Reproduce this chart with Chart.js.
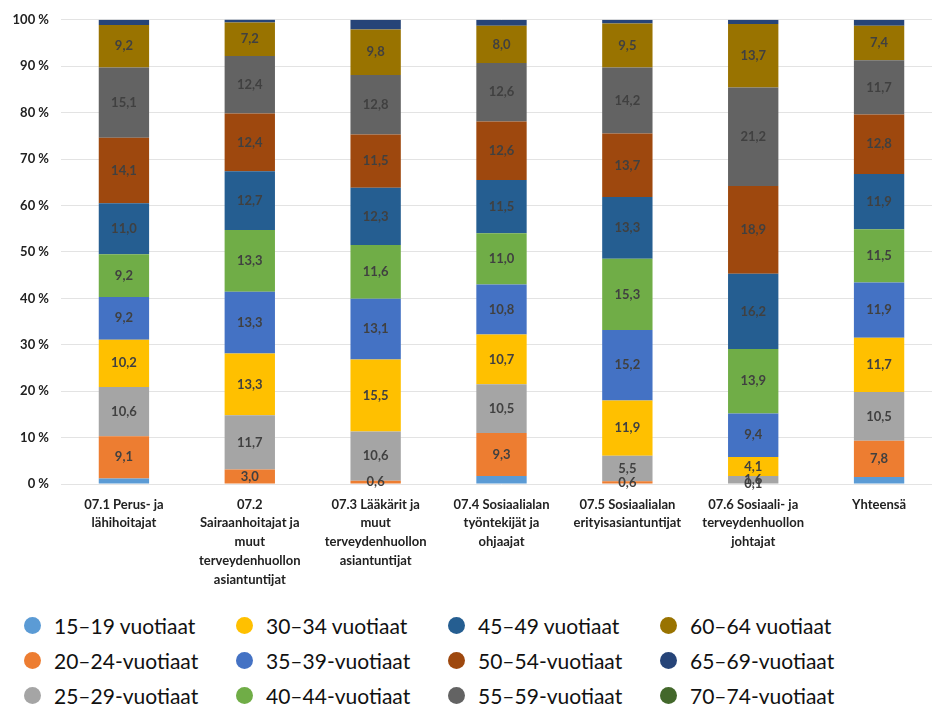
<!DOCTYPE html>
<html>
<head>
<meta charset="utf-8">
<script src="https://cdn.jsdelivr.net/npm/chart.js@4"></script>
<style>
  html, body { margin: 0; padding: 0; background: #fff; overflow: hidden; width: 932px; height: 706px; }
  #wrap { position: relative; width: 932px; height: 706px; }
  #myChart { position: absolute; left: 0; top: 0; }
  #legend { position: absolute; left: 0; top: 609px; width: 932px; font-family: Lato, 'Open Sans', sans-serif; font-size: 21px; color: #111; }
  .item { position: absolute; display: flex; align-items: center; height: 32px; white-space: nowrap; }
  .dot { width: 17px; height: 17px; border-radius: 50%; margin-right: 13px; }
</style>
</head>
<body>
<div id="wrap">
  <canvas id="myChart" width="942" height="600"></canvas>
  <div id="legend"></div>
</div>
<script>
// categories (occupational groups)
const categories = [
  ['07.1 Perus- ja', 'lähihoitajat'],
  ['07.2', 'Sairaanhoitajat ja', 'muut', 'terveydenhuollon', 'asiantuntijat'],
  ['07.3 Lääkärit ja', 'muut', 'terveydenhuollon', 'asiantuntijat'],
  ['07.4 Sosiaalialan', 'työntekijät ja', 'ohjaajat'],
  ['07.5 Sosiaalialan', 'erityisasiantuntijat'],
  ['07.6 Sosiaali- ja', 'terveydenhuollon', 'johtajat'],
  ['Yhteensä']
];

const seriesNames = [
  '15–19 vuotiaat', '20–24-vuotiaat', '25–29-vuotiaat', '30–34 vuotiaat',
  '35–39-vuotiaat', '40–44-vuotiaat', '45–49 vuotiaat', '50–54-vuotiaat',
  '55–59-vuotiaat', '60–64 vuotiaat', '65–69-vuotiaat', '70–74-vuotiaat'
];

const colors = [
  '#5B9BD5', '#ED7D31', '#A5A5A5', '#FFC000', '#4472C4', '#70AD47',
  '#255E91', '#9E480E', '#636363', '#997300', '#264478', '#43682B'
];

// shares in percent, one array per age group
const age15_19 = [1.2, 0.1, 0.1, 1.7, 0.0, 0.0, 1.5];
const age20_24 = [9.1, 3.0, 0.6, 9.3, 0.6, 0.1, 7.8];
const age25_29 = [10.6, 11.7, 10.6, 10.5, 5.5, 1.6, 10.5];
const age30_34 = [10.2, 13.3, 15.5, 10.7, 11.9, 4.1, 11.7];
const age35_39 = [9.2, 13.3, 13.1, 10.8, 15.2, 9.4, 11.9];
const age40_44 = [9.2, 13.3, 11.6, 11.0, 15.3, 13.9, 11.5];
const age45_49 = [11.0, 12.7, 12.3, 11.5, 13.3, 16.2, 11.9];
const age50_54 = [14.1, 12.4, 11.5, 12.6, 13.7, 18.9, 12.8];
const age55_59 = [15.1, 12.4, 12.8, 12.6, 14.2, 21.2, 11.7];
const age60_64 = [9.2, 7.2, 9.8, 8.0, 9.5, 13.7, 7.4];
const age65_69 = [1.1, 0.7, 2.1, 1.3, 0.8, 0.9, 1.3];
const age70_74 = [0.0, 0.0, 0.0, 0.0, 0.0, 0.0, 0.0];

const seriesValues = [age15_19, age20_24, age25_29, age30_34, age35_39, age40_44,
  age45_49, age50_54, age55_59, age60_64, age65_69, age70_74];

// which series get a value label
const labelledSeries = [1, 2, 3, 4, 5, 6, 7, 8, 9];

const yTicks = [0, 10, 20, 30, 40, 50, 60, 70, 80, 90, 100];

const FONT = "Lato, 'Open Sans', sans-serif";

const valueLabels = {
  id: 'valueLabels',
  afterDatasetsDraw(chart) {
    const c = chart.ctx;
    c.save();
    c.font = 'bold 13px ' + FONT;
    c.fillStyle = '#404040';
    c.textAlign = 'center';
    c.textBaseline = 'middle';
    labelledSeries.forEach(function(di) {
      const meta = chart.getDatasetMeta(di);
      meta.data.forEach(function(bar, i) {
        const v = seriesValues[di][i];
        if (!v) return;
        const y = (bar.y + bar.base) / 2;
        c.fillText(v.toFixed(1).replace('.', ','), bar.x, y);
      });
    });
    c.restore();
  }
};

const ctx = document.getElementById('myChart').getContext('2d');
new Chart(ctx, {
  type: 'bar',
  data: {
    labels: categories,
    datasets: seriesNames.map(function(name, i) {
      return {
        label: name,
        data: seriesValues[i],
        backgroundColor: colors[i],
        borderWidth: 0,
        barPercentage: 0.4,
        categoryPercentage: 1.0
      };
    })
  },
  options: {
    responsive: false,
    animation: false,
    layout: { padding: { top: 13, left: 0, right: 0, bottom: 0 } },
    plugins: {
      legend: { display: false },
      tooltip: { enabled: false }
    },
    scales: {
      x: {
        stacked: true,
        grid: { display: false, drawTicks: false },
        border: { display: false },
        ticks: {
          autoSkip: false,
          maxRotation: 0,
          minRotation: 0,
          padding: 11,
          color: '#222',
          font: { family: FONT, size: 13, weight: 'bold', lineHeight: 1.45 }
        },
        afterFit: function(scale) { scale.height = 116; }
      },
      y: {
        stacked: true,
        min: 0,
        max: 100,
        afterBuildTicks: function(scale) {
          scale.ticks = yTicks.map(function(v) { return { value: v }; });
        },
        grid: { color: '#e3e3e3', drawTicks: false, lineWidth: 1 },
        border: { display: false },
        ticks: {
          padding: 12,
          color: '#222',
          font: { family: FONT, size: 13, weight: 'bold' },
          callback: function(v) { return v + ' %'; }
        },
        afterFit: function(scale) { scale.width = 61; }
      }
    }
  },
  plugins: [valueLabels]
});

// legend laid out in columns like the original
const legend = document.getElementById('legend');
seriesNames.forEach(function(name, i) {
  const col = Math.floor(i / 3);
  const row = i % 3;
  const item = document.createElement('div');
  item.className = 'item';
  item.style.left = (24 + col * 212) + 'px';
  item.style.top = (row * 35) + 'px';
  const dot = document.createElement('span');
  dot.className = 'dot';
  dot.style.background = colors[i];
  const txt = document.createElement('span');
  txt.textContent = name;
  item.appendChild(dot);
  item.appendChild(txt);
  legend.appendChild(item);
});
</script>
</body>
</html>
